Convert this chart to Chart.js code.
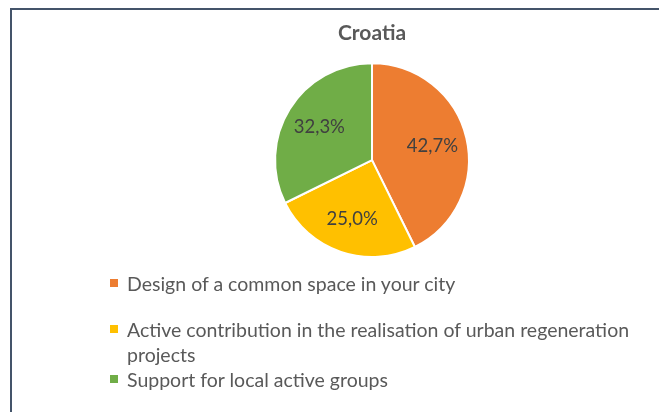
<!DOCTYPE html>
<html lang="en">
  <head>
    <meta charset="UTF-8" />
    <title>Croatia</title>
    <script src="https://cdn.jsdelivr.net/npm/chart.js"></script>
    <style>
      body { margin: 0; background: #fff; }
      #wrap { position: relative; width: 659px; height: 412px; overflow: hidden; }
      #frame {
        position: absolute; left: 10px; top: 8px; width: 700px; height: 460px;
        border-left: 2px solid #44546a; border-top: 2px solid #44546a;
      }
      canvas { position: absolute; left: 0; top: 0; }
      #legend {
        position: absolute; left: 110px; top: 271px; width: 535px;
        font-family: Lato, "Open Sans", sans-serif; font-size: 19.5px; color: #595959;
        line-height: 25px;
      }
      .item { display: flex; align-items: flex-start; }
      .item:first-child { margin-bottom: 21px; }
      .box { width: 8px; height: 8px; margin: 8px 9px 0 0; flex: none; }
    </style>
  </head>
  <body>
    <div id="wrap">
      <div id="frame"></div>
      <canvas id="pieChart" width="659" height="412"></canvas>
      <div id="legend"></div>
    </div>

    <script>
      const categories = [
        "Design of a common space in your city",
        "Active contribution in the realisation of urban regeneration projects",
        "Support for local active groups",
      ];
      const shares = [42.7, 25.0, 32.3];
      const colors = ["#ED7D31", "#FFC000", "#70AD47"];

      // percentage labels inside the slices
      const sliceLabels = {
        id: "sliceLabels",
        afterDatasetsDraw(chart) {
          const ctx = chart.ctx;
          const meta = chart.getDatasetMeta(0);
          ctx.save();
          ctx.font = "18.5px Lato, 'Open Sans', sans-serif";
          ctx.fillStyle = "#404040";
          ctx.textAlign = "center";
          ctx.textBaseline = "middle";
          meta.data.forEach((arc, i) => {
            const p = arc.getProps(["x", "y", "startAngle", "endAngle", "outerRadius"], true);
            const mid = (p.startAngle + p.endAngle) / 2;
            const r = p.outerRadius * 0.64;
            const txt = shares[i].toFixed(1).replace(".", ",") + "%";
            ctx.fillText(txt, p.x + Math.cos(mid) * r, p.y + Math.sin(mid) * r);
          });
          ctx.restore();
        },
      };

      const ctx = document.getElementById("pieChart").getContext("2d");
      new Chart(ctx, {
        type: "pie",
        data: {
          labels: categories,
          datasets: [
            {
              data: shares,
              backgroundColor: colors,
              borderColor: "#ffffff",
              borderWidth: 2,
            },
          ],
        },
        options: {
          responsive: false,
          animation: false,
          layout: { padding: { left: 130, right: 45, top: 0, bottom: 154 } },
          plugins: {
            legend: { display: false },
            tooltip: { enabled: false },
            title: {
              display: true,
              text: "Croatia",
              color: "#595959",
              font: { family: "Lato, 'Open Sans', sans-serif", size: 21, weight: "bold" },
              padding: { top: 21, bottom: 16 },
            },
          },
        },
        plugins: [sliceLabels],
      });

      const legend = document.getElementById("legend");
      categories.forEach((c, i) => {
        const row = document.createElement("div");
        row.className = "item";
        row.innerHTML = '<span class="box" style="background:' + colors[i] + '"></span><span>' + c + "</span>";
        legend.appendChild(row);
      });
    </script>
  </body>
</html>
